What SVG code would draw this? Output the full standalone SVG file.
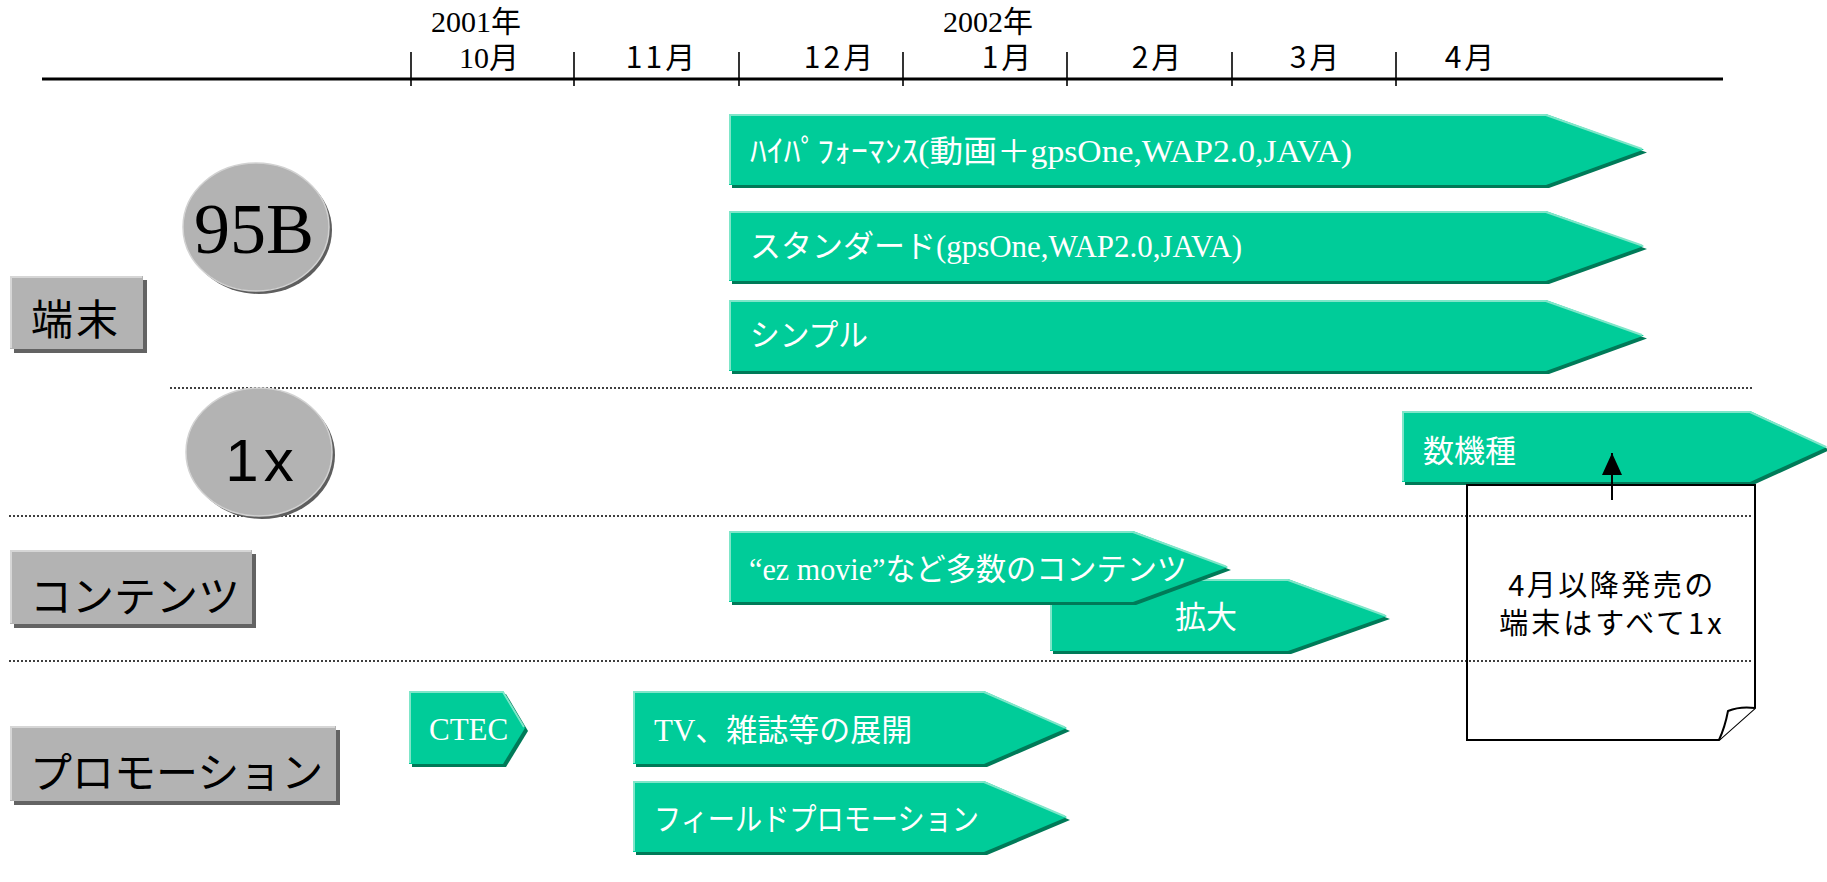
<svg xmlns="http://www.w3.org/2000/svg" width="1827" height="882" viewBox="0 0 1827 882">
<defs>
<style>
.arr{fill:#00cc99}
.arrsh{fill:#007a58}
.arrhl{fill:none;stroke:#7fe6c9;stroke-width:2}
.wt{fill:#ffffff;font-family:"Liberation Serif","Noto Sans CJK JP",serif;font-size:31px}
.lbl{fill:#b3b3b3}
.lblsh{fill:#636363}
.lblhl{fill:none;stroke:#d6d6d6;stroke-width:2}
.lbt{fill:#000;font-family:"Noto Sans CJK JP",sans-serif;font-size:42px}
.dot{stroke:#000;stroke-width:1.6;stroke-dasharray:2 2;fill:none}
.tick{stroke:#000;stroke-width:1.6}
.mon{font-family:"Noto Sans CJK JP",sans-serif;font-size:30px;fill:#000;text-anchor:middle;letter-spacing:3px}
.monS{font-family:"Liberation Serif","Noto Sans CJK JP",serif;font-size:30px;fill:#000;text-anchor:middle}
</style>
<marker id="ah" markerWidth="22" markerHeight="20" refX="22" refY="10" orient="auto" markerUnits="userSpaceOnUse" viewBox="0 0 22 20">
<path d="M0,0 L22,10 L0,20 Z" fill="#000"/>
</marker>
</defs>
<rect width="1827" height="882" fill="#ffffff"/>

<g id="timeline">
<line x1="42" y1="79" x2="1723" y2="79" stroke="#000" stroke-width="2.8"/>
<line class="tick" x1="411" y1="52" x2="411" y2="86"/>
<line class="tick" x1="574" y1="52" x2="574" y2="86"/>
<line class="tick" x1="739" y1="52" x2="739" y2="86"/>
<line class="tick" x1="903" y1="52" x2="903" y2="86"/>
<line class="tick" x1="1067" y1="52" x2="1067" y2="86"/>
<line class="tick" x1="1232" y1="52" x2="1232" y2="86"/>
<line class="tick" x1="1396" y1="52" x2="1396" y2="86"/>
<text class="monS" x="476" y="32">2001年</text>
<text class="monS" x="489" y="68">10月</text>
<text class="monS" x="988" y="32">2002年</text>
<text class="mon" x="662" y="68">11月</text>
<text class="mon" x="840" y="68">12月</text>
<text class="mon" x="1008" y="68">1月</text>
<text class="mon" x="1158" y="68">2月</text>
<text class="mon" x="1316" y="68">3月</text>
<text class="mon" x="1471" y="68">4月</text>
</g>

<g id="separators">
<line class="dot" x1="170" y1="388" x2="1753" y2="388"/>
<line class="dot" x1="9" y1="516" x2="1753" y2="516"/>
<line class="dot" x1="9" y1="661" x2="1753" y2="661"/>
</g>

<g id="label-tanmatsu">
<rect class="lblsh" x="14" y="280" width="133" height="73"/>
<rect class="lbl" x="10" y="276" width="133" height="73"/>
<polyline class="lblhl" points="11,348 11,277 142,277"/>
<text class="lbt" x="31" y="335" font-size="44" letter-spacing="3">端末</text>
</g>

<g id="label-contents">
<rect class="lblsh" x="14" y="554" width="242" height="74"/>
<rect class="lbl" x="10" y="550" width="242" height="74"/>
<polyline class="lblhl" points="11,623 11,551 251,551"/>
<text class="lbt" x="30" y="612">コンテンツ</text>
</g>

<g id="label-promotion">
<rect class="lblsh" x="14" y="730" width="326" height="75"/>
<rect class="lbl" x="10" y="726" width="326" height="75"/>
<polyline class="lblhl" points="11,800 11,727 335,727"/>
<text class="lbt" x="30" y="788">プロモーション</text>
</g>

<g id="badge-95b">
<ellipse cx="259" cy="230" rx="73" ry="64" fill="#5e5e5e"/>
<ellipse cx="256" cy="227" rx="73" ry="64" fill="#b3b3b3" stroke="#d2d2d2" stroke-width="1.5"/>
<text x="254" y="253" text-anchor="middle" font-family="Liberation Serif, serif" font-size="72" fill="#000">95B</text>
</g>

<g id="badge-1x">
<ellipse cx="262" cy="455" rx="73" ry="64" fill="#5e5e5e"/>
<ellipse cx="259" cy="452" rx="73" ry="64" fill="#b3b3b3" stroke="#d2d2d2" stroke-width="1.5"/>
<text x="262" y="481" text-anchor="middle" font-family="Liberation Sans, sans-serif" font-size="60" letter-spacing="5" fill="#000">1x</text>
</g>

<g id="arrow-highperf">
<polygon class="arrsh" points="732,117 1549,117 1647,152.5 1549,188 732,188"/>
<polygon class="arr" points="729,114 1546,114 1644,149.5 1546,185 729,185"/>
<polyline class="arrhl" points="730,184 730,115 1546,115 1642,149"/>
<text class="wt" x="750" y="162" textLength="602" lengthAdjust="spacingAndGlyphs">ﾊｲﾊﾟﾌｫｰﾏﾝｽ(動画＋gpsOne,WAP2.0,JAVA)</text>
</g>

<g id="arrow-standard">
<polygon class="arrsh" points="732,214 1549,214 1647,249 1549,284 732,284"/>
<polygon class="arr" points="729,211 1546,211 1644,246 1546,281 729,281"/>
<polyline class="arrhl" points="730,280 730,212 1546,212 1642,245.5"/>
<text class="wt" x="750" y="257" textLength="492" lengthAdjust="spacingAndGlyphs">スタンダード(gpsOne,WAP2.0,JAVA)</text>
</g>

<g id="arrow-simple">
<polygon class="arrsh" points="732,303 1549,303 1647,338.5 1549,374 732,374"/>
<polygon class="arr" points="729,300 1546,300 1644,335.5 1546,371 729,371"/>
<polyline class="arrhl" points="730,370 730,301 1546,301 1642,335"/>
<text class="wt" x="750" y="346" textLength="118" lengthAdjust="spacingAndGlyphs">シンプル</text>
</g>

<g id="arrow-models">
<polygon class="arrsh" points="1405,414 1753,414 1830,450 1753,485 1405,485"/>
<polygon class="arr" points="1402,411 1750,411 1827,447 1750,482 1402,482"/>
<polyline class="arrhl" points="1403,481 1403,412 1750,412 1826,447"/>
<text class="wt" x="1423" y="462">数機種</text>
</g>

<g id="arrow-expand">
<polygon class="arrsh" points="1053,582 1291,582 1390,619 1291,654 1053,654"/>
<polygon class="arr" points="1050,579 1288,579 1387,616 1288,651 1050,651"/>
<polyline class="arrhl" points="1051,650 1051,580 1288,580 1385,615.5"/>
<text class="wt" x="1206" y="628" text-anchor="middle">拡大</text>
</g>

<g id="arrow-ezmovie">
<polygon class="arrsh" points="732,534 1136,534 1231,570 1136,605 732,605"/>
<polygon class="arr" points="729,531 1133,531 1228,567 1133,602 729,602"/>
<polyline class="arrhl" points="730,601 730,532 1133,532 1226,566.5"/>
<text class="wt" x="749" y="580" textLength="438" lengthAdjust="spacingAndGlyphs">“ez movie”など多数のコンテンツ</text>
</g>

<g id="arrow-ctec">
<polygon class="arrsh" points="412,694 506,694 528,731 506,767 412,767"/>
<polygon class="arr" points="409,691 503,691 525,728 503,764 409,764"/>
<polyline class="arrhl" points="410,763 410,692 503,692 524,727"/>
<text class="wt" x="429" y="740" font-size="32">CTEC</text>
</g>

<g id="arrow-tv">
<polygon class="arrsh" points="636,694 987,694 1070,731 987,767 636,767"/>
<polygon class="arr" points="633,691 984,691 1067,728 984,764 633,764"/>
<polyline class="arrhl" points="634,763 634,692 984,692 1065,727.5"/>
<text class="wt" x="654" y="741">TV、雑誌等の展開</text>
</g>

<g id="arrow-field">
<polygon class="arrsh" points="636,784 987,784 1070,820 987,855 636,855"/>
<polygon class="arr" points="633,781 984,781 1067,817 984,852 633,852"/>
<polyline class="arrhl" points="634,851 634,782 984,782 1065,816.5"/>
<text class="wt" x="654" y="830" textLength="325" lengthAdjust="spacingAndGlyphs">フィールドプロモーション</text>
</g>

<g id="note">
<path d="M1467,485 H1755 V708 L1719,740 H1467 Z" fill="none" stroke="#000" stroke-width="2"/>
<path d="M1755,708 Q1740,706 1728,711 Q1725,727 1719,740" fill="#fff" stroke="#000" stroke-width="2" stroke-linejoin="round"/>
<text x="1612" y="596" text-anchor="middle" font-family="Noto Sans CJK JP, sans-serif" font-size="29" letter-spacing="2.5" fill="#000">4月以降発売の</text>
<text x="1612" y="634" text-anchor="middle" font-family="Noto Sans CJK JP, sans-serif" font-size="29" letter-spacing="3" fill="#000">端末はすべて1x</text>
</g>

<g id="connectors">
<line x1="1612" y1="500" x2="1612" y2="453" stroke="#000" stroke-width="2" marker-end="url(#ah)"/>
</g>
</svg>
